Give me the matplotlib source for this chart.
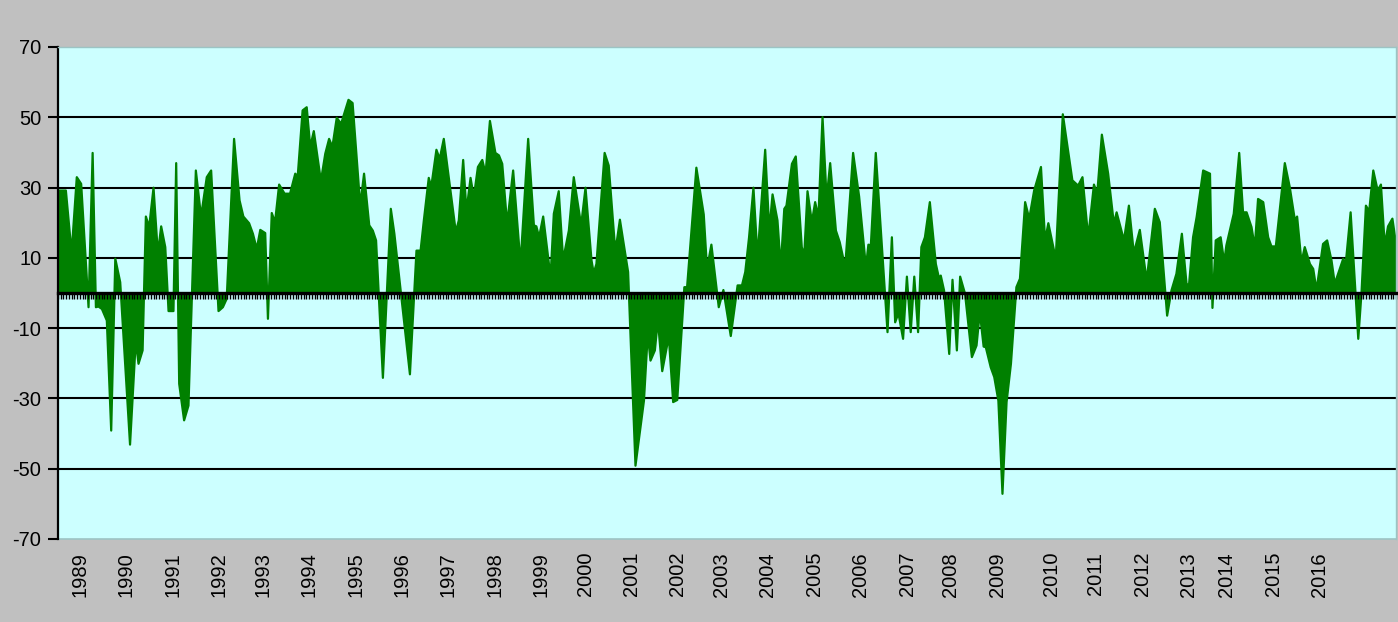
import matplotlib
matplotlib.use("Agg")
import matplotlib.pyplot as plt
import numpy as np

plt.rcParams['font.family'] = ['Liberation Sans', 'DejaVu Sans']
plt.rcParams['axes.unicode_minus'] = False

# position along the category axis (tick index) and value of each turning point
positions = [
    0.3, 2.7, 4.6, 4.9, 6.7, 8.3, 11.0, 12.5, 13.7, 14.6, 15.9, 17.7, 19.3, 20.8, 22.6, 26.2, 28.3, 29.3,
    30.8, 32.0, 33.2, 34.8, 36.4, 37.6, 39.1, 40.3, 42.1, 43.1, 44.2, 46.0, 47.6, 50.3, 52.2, 54.3, 55.9, 58.6,
    60.2, 61.6, 64.3, 66.3, 67.7, 69.8, 71.2, 72.6, 73.9, 75.7, 76.7, 78.1, 79.3, 80.8, 82.8, 84.8, 86.7, 87.6,
    89.4, 90.9, 92.2, 93.5, 96.1, 97.7, 99.1, 100.3, 101.9, 103.5, 106.2, 107.7, 110.5, 111.9, 113.8, 115.1, 116.3, 118.8,
    121.7,
    123.0, 128.7, 131.1, 132.6, 133.8, 135.6, 136.5, 138.4, 139.6, 141.1,
    145.5, 146.6, 148.2, 149.4, 150.9, 152.1, 153.6, 155.2, 156.4, 158.0,
    160.0, 161.3, 162.5, 164.3, 166.5, 169.2, 172.0, 174.1, 175.0, 176.0,
    177.5, 180.2, 181.4, 183.2, 184.8, 186.9, 188.7, 191.4, 193.0, 195.2,
    196.0, 197.0, 200.0, 201.5, 203.6, 204.3, 205.6, 208.6, 211.3, 214.4,
    215.8, 216.8, 218.4, 219.5, 221.1, 223.5, 225.1, 226.6, 229.2, 230.2,
    233.6, 236.3, 237.5, 239.1, 241.8,
    243.5, 246.2, 248.7, 250.3, 251.5, 252.9, 254.5, 256.0, 258.8, 260.3,
    261.5, 263.3, 264.5, 265.8, 266.6, 268.6, 270.0, 272.2, 273.1, 274.3,
    275.9, 277.1, 278.3, 279.8, 281.3, 282.6, 284.7, 286.1, 288.1, 291.0,
    293.2, 295.7, 296.6, 297.5, 299.3, 303.6, 305.2, 306.4, 307.6, 309.3,
    310.7, 312.1, 313.4, 314.8, 316.0, 317.3, 319.1, 321.3, 322.5, 323.1,
    324.3, 326.2, 327.4, 329.0, 330.2, 332.0, 334.5, 336.2, 337.4, 338.8,
    339.6, 341.4, 342.7, 344.2, 345.7, 347.2, 348.8, 350.8, 352.1, 354.0,
    355.5, 357.3, 359.8, 361.3, 362.5, 365.2, 367.8,
    371.3, 373.4, 375.0, 377.1, 379.2, 380.4, 382.1, 384.4, 386.5, 387.5,
    390.2, 392.0, 393.8, 396.0, 398.5, 401.5, 403.3, 406.0, 407.6, 409.4,
    411.4, 413.1, 414.0, 415.5, 416.8, 419.2, 421.7, 422.6, 423.8, 425.6,
    426.9, 427.7, 430.4, 432.4, 433.8, 435.1, 436.9, 438.1, 439.3, 441.2,
    443.0, 444.2, 445.8, 449.1, 450.9, 452.8, 453.6, 455.2, 456.4, 458.3,
    459.5, 460.7, 463.1, 464.6, 466.2, 467.4, 470.5, 471.4, 473.2, 476.0,
    477.2, 478.8, 480.0, 481.5, 483.1, 484.3, 485.7, 486.9, 488.5, 490.0,
]

values = [
    29.3, 29.3, 13.2, 12.7, 33.1, 31.2, -3.9, 40, -3.9, -3.7, -4.4, -7.7, -39, 9.9, 3.2, -43, -13.4, -20,
    -16.2, 21.9, 18.9, 30.1, 11.3, 19.1, 13.2, -5, -5, 37.1, -25.7, -36.1, -31.9, 35, 21.9, 33.1, 35, -5,
    -3.9, -1.5, 44, 26.5, 21.9, 20, 17, 12.7, 18.1, 17.2, -7.2, 22.9, 20.3, 31, 28.4, 28.4, 34.1, 33.3,
    52.1, 53, 41.7, 46.2, 32, 39.8, 44, 41.7, 50, 48.3, 55.1, 54.2, 25, 34.1, 19.4, 17.9, 15.1, -24,
    24.1,
    17, -23, 12.2, 12.2, 20.8, 32.9, 30.3, 40.9, 38.3, 44,
    17.5, 20.8, 38, 23.4, 32.9, 27.4, 36, 38, 34.1, 49.1,
    40, 39.3, 36.9, 19.8, 35, 8.4, 44, 19.4, 19.1, 16,
    21.9, 4.6, 22.7, 29.1, 9.6, 17.9, 33.1, 19.4, 30.1, 9.4,
    5.8, 8.4, 40, 36.4, 15.1, 13.9, 21, 6.1, -49, -30.5,
    -11.5, -19.1, -16.2, -7.5, -22.1, -12.2, -30.9, -30.3, 1.8, 1.8,
    35.8, 22.5, 7, 13.9, -3.9,
    1, -12.1, 2.3, 2.3, 6.1, 16, 30.1, 10.3, 40.9, 17.9,
    28.2, 20.8, 7.5, 24.1, 25, 36.9, 39, 13.2, 10.8, 29.1,
    20.3, 26, 21.7, 50.2, 26.9, 37.1, 17.9, 14.6, 7.5, 40,
    27.6, 7.5, 13.9, 13.7, 40, -11, 16, -8.2, -5.6, -12.9,
    4.8, -11, 4.8, -11, 13.2, 16, 26, 8.4, 4.2, 5.1,
    0.9, -17.2, 3.9, -16.2, 4.8, -0.1, -18.1, -14.8, -5.3, -15.1,
    -15.3, -21, -23.8, -30.5, -57, -30.9, -20, 1.8, 4.2, 26,
    21.3, 29.3, 36, 15.1, 20, 9.9, 51,
    32.2, 30.7, 33.1, 16, 31, 28.4, 45.2, 34.1, 19.8, 23.1,
    15.1, 25, 11.5, 18.1, 3.7, 24.1, 20.3, -6.3, 0.9, 5.6,
    17, 2.8, 2.3, 16, 21.7, 35, 34.1, -4.1, 15.1, 16,
    8.9, 13.7, 22.7, 40, 23.1, 23.1, 18.9, 13.2, 26.9, 26,
    16, 13.4, 13.4, 37.1, 30.3, 20.8, 21.9, 8.9, 13.2, 8.4,
    7, 1, 14.1, 15.1, 9.4, 2.8, 9.9, 8.4, 23.1, -12.9,
    0.4, 25, 23.4, 35, 29.3, 31, 13.7, 19.1, 21.3, 13.2,
]

year_labels = ['1989', '1990', '1991', '1992', '1993', '1994', '1995', '1996', '1997', '1998',
               '1999', '2000', '2001', '2002', '2003', '2004', '2005', '2006', '2007', '2008',
               '2009', '2010', '2011', '2012', '2013', '2014', '2015', '2016']
year_positions = [8, 25, 42, 59, 75, 92, 109, 126, 143, 160, 177, 193, 210, 227, 243, 260, 277,
                  294, 311, 327, 344, 364, 380, 397, 414, 428, 445, 462]
n_categories = 490

y_ticks = [70, 50, 30, 10, -10, -30, -50, -70]
grid_levels = [50, 30, 10, -10, -30, -50]

W, H = 1398, 622
fig = plt.figure(figsize=(W / 100, H / 100), dpi=100)
fig.patch.set_facecolor('#c0c0c0')
ax = fig.add_axes([58 / W, (H - 539) / H, 1338 / W, 492 / H])
ax.set_facecolor('#ccffff')

x = np.array(positions)
y = np.array(values)
ax.fill_between(x, 0, y, facecolor='#008000', edgecolor='#008000', lw=1.6,
                joinstyle='round', capstyle='round', zorder=1)

for g in grid_levels:
    ax.axhline(g, color='black', lw=1.5, zorder=0.5)

ax.set_xlim(0, n_categories)
ax.set_ylim(-70, 70)

# category axis at zero
ax.spines['bottom'].set_position(('data', 0))
ax.spines['bottom'].set_linewidth(2.4)
ax.spines['bottom'].set_color('black')
ax.spines['bottom'].set_zorder(3)
ax.set_xticks(np.arange(0, n_categories + 1))
ax.tick_params(axis='x', direction='out', length=4, width=1, color='black', labelbottom=False)

for lab, p in zip(year_labels, year_positions):
    ax.annotate(lab, xy=(p, 0), xycoords=('data', 'axes fraction'), xytext=(0, -13),
                textcoords='offset pixels', rotation=90, ha='center', va='top', fontsize=14.5)

ax.spines['left'].set_linewidth(1.6)
ax.spines['left'].set_color('black')
for s in ['top', 'right']:
    ax.spines[s].set_color('#9cc4c4')
    ax.spines[s].set_linewidth(1)
ax.plot([0, 1], [0, 0], transform=ax.transAxes, color='#9cc4c4', lw=1.2, clip_on=False, zorder=0.6)

ax.set_yticks(y_ticks)
ax.set_yticklabels([str(t) for t in y_ticks])
ax.tick_params(axis='y', direction='out', length=7, width=1.5, labelsize=14.5, pad=5)

fig.savefig('out.png', dpi=100, facecolor=fig.get_facecolor())
